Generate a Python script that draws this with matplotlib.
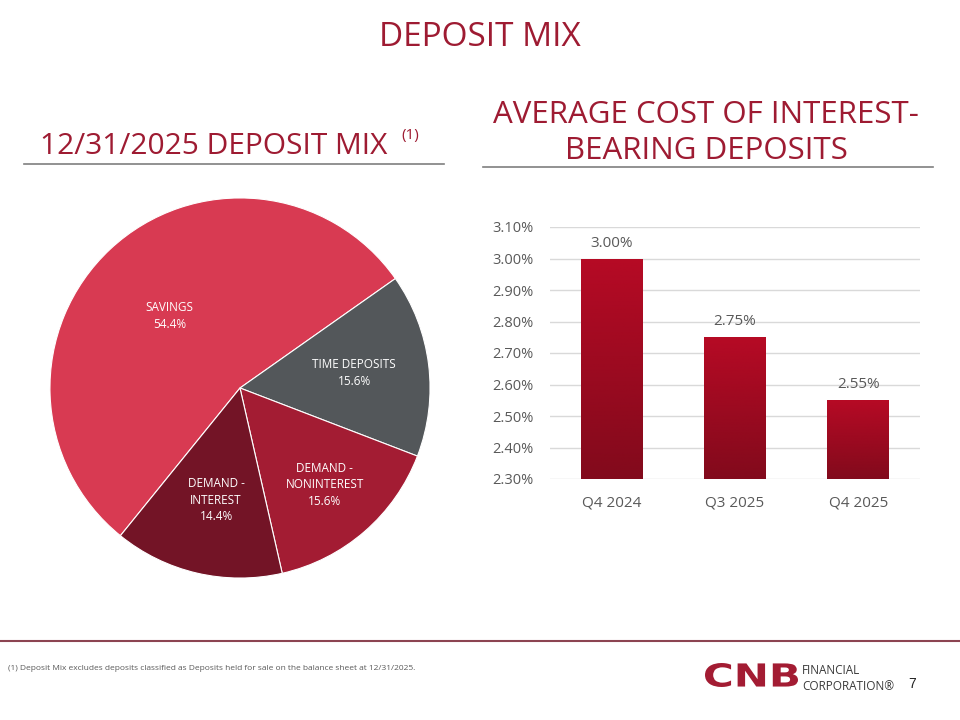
import numpy as np
import matplotlib
matplotlib.use("Agg")
from matplotlib import pyplot as plt
from matplotlib.textpath import TextPath
from matplotlib.patches import PathPatch
from matplotlib.font_manager import FontProperties
from matplotlib.transforms import Affine2D

plt.rcParams['font.family'] = ['Open Sans', 'DejaVu Sans']

# pie data
mix_labels = ["SAVINGS\n54.4%", "TIME DEPOSITS\n15.6%", "DEMAND -\nNONINTEREST\n15.6%", "DEMAND -\nINTEREST\n14.4%"]
mix_values = [54.4, 15.6, 15.6, 14.4]
mix_colors = ["#D83A52", "#53575A", "#A31C33", "#731426"]

# bar data
quarters = ["Q4 2024", "Q3 2025", "Q4 2025"]
cost = [3.00, 2.75, 2.55]
cost_ticks = [2.30, 2.40, 2.50, 2.60, 2.70, 2.80, 2.90, 3.00, 3.10]

maroon = "#9E1B32"
grey_text = "#595959"

W, H = 960, 720
fig = plt.figure(figsize=(9.6, 7.2), dpi=100)

def px(x0, y0, w, h):
    # pixel box -> figure fraction
    return [x0 / W, 1 - (y0 + h) / H, w / W, h / H]

fig.text(480 / W, 1 - 38 / H, "DEPOSIT MIX", ha="center", va="center",
         fontsize=24, color=maroon)

fig.text(214 / W, 1 - 146 / H, "12/31/2025 DEPOSIT MIX", ha="center", va="center",
         fontsize=21.5, color=maroon)
fig.text(401 / W, 1 - 136 / H, "(1)", ha="left", va="center", fontsize=11, color=maroon)
fig.text(706 / W, 1 - 115 / H, "AVERAGE COST OF INTEREST-", ha="center", va="center",
         fontsize=22.5, color=maroon)
fig.text(706 / W, 1 - 151 / H, "BEARING DEPOSITS", ha="center", va="center",
         fontsize=22.5, color=maroon)

line_ax = fig.add_axes([0, 0, 1, 1])
line_ax.set_xlim(0, W)
line_ax.set_ylim(H, 0)
line_ax.axis("off")
line_ax.plot([24, 444], [164, 164], color="#7F7F7F", lw=1.2)
line_ax.plot([483, 933], [167, 167], color="#7F7F7F", lw=1.2)
line_ax.plot([0, 960], [641, 641], color="#8C4452", lw=1.5)

# pie
pie_ax = fig.add_axes(px(49, 197, 382, 382))
wedges, _ = pie_ax.pie(mix_values, colors=mix_colors, startangle=231, counterclock=False,
                       wedgeprops=dict(edgecolor="white", linewidth=0.8))
pie_ax.set_xlim(-1.005, 1.005)
pie_ax.set_ylim(-1.005, 1.005)
pie_ax.set_aspect("equal")
label_pos = [(-0.37, 0.38), (0.60, 0.08), (0.445, -0.51), (-0.126, -0.59)]
for lab, (lx, ly) in zip(mix_labels, label_pos):
    pie_ax.text(lx, ly, lab, ha="center", va="center", fontsize=8.5,
                color="white", linespacing=1.35)

# bars
bar_ax = fig.add_axes(px(550, 227, 370, 252))
bars = bar_ax.bar(range(len(quarters)), cost, width=0.5, bottom=0, color="none", zorder=2)
grad = np.linspace(0, 1, 256).reshape(-1, 1)
cmap = matplotlib.colors.LinearSegmentedColormap.from_list("g", ["#820A1C", "#B60A25"])
for b in bars:
    x0, w = b.get_x(), b.get_width()
    im = bar_ax.imshow(grad, cmap=cmap, origin="lower", aspect="auto",
                       extent=[x0, x0 + w, 2.30, b.get_height()], zorder=2)
    im.set_clip_path(b)
for i, v in enumerate(cost):
    bar_ax.text(i, v + 0.025, f"{v:.2f}%", ha="center", va="bottom",
                fontsize=11, color=grey_text)
bar_ax.set_xlim(-0.5, 2.5)
bar_ax.set_ylim(2.30, 3.10)
bar_ax.set_yticks(cost_ticks)
bar_ax.set_yticklabels([f"{t:.2f}%" for t in cost_ticks])
bar_ax.set_xticks(range(len(quarters)))
bar_ax.set_xticklabels(quarters)
bar_ax.grid(axis="y", color="#D9D9D9", lw=1)
bar_ax.set_axisbelow(True)
for s in bar_ax.spines.values():
    s.set_visible(False)
bar_ax.tick_params(length=0, labelsize=10.5, labelcolor=grey_text)
bar_ax.tick_params(axis="x", labelsize=11)
bar_ax.tick_params(axis="y", pad=12)
bar_ax.tick_params(axis="x", pad=12)

# footer
fig.text(8 / W, 1 - 668 / H,
         "(1) Deposit Mix excludes deposits classified as Deposits held for sale on the balance sheet at 12/31/2025.",
         ha="left", va="center", fontsize=6, color=grey_text)

# logo word, stretched into its box
logo = TextPath((0, 0), "CNB", size=10, prop=FontProperties(family="DejaVu Sans", weight="bold"))
ext = logo.get_extents()
sx = (798 - 705) / ext.width
sy = (687 - 663) / ext.height
logo_tf = Affine2D().translate(-ext.x0, -ext.y0).scale(sx, -sy).translate(705, 687)
line_ax.add_patch(PathPatch(logo_tf.transform_path(logo), facecolor="#A31C33", edgecolor="none"))
fig.text(802 / W, 1 - 671 / H, "FINANCIAL", ha="left", va="center", fontsize=8.5, color="#3A3A3A")
fig.text(802 / W, 1 - 686 / H, "CORPORATION\u00ae", ha="left", va="center", fontsize=8.5, color="#3A3A3A")
fig.text(912 / W, 1 - 684 / H, "7", ha="center", va="center", fontsize=10, color="#222222",
         family="Liberation Sans")

fig.savefig("out.png", dpi=100, facecolor="white")
